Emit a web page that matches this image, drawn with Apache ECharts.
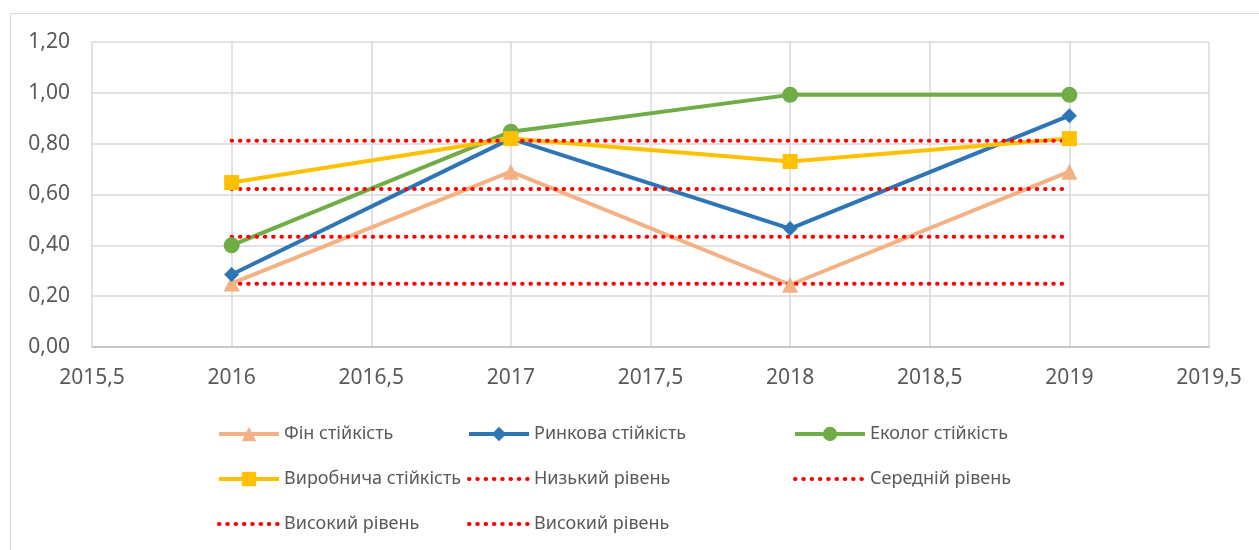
<!DOCTYPE html>
<html>
<head>
<meta charset="utf-8">
<script src="https://cdn.jsdelivr.net/npm/echarts@6/dist/echarts.min.js"></script>
<style>
  html, body { margin: 0; padding: 0; background: #fff; }
  #chart { width: 1259px; height: 550px; }
</style>
</head>
<body>
<div id="chart"></div>
<script>
const years = [2016, 2017, 2018, 2019];

const finValues = [0.25, 0.69, 0.245, 0.69];
const marketValues = [0.285, 0.82, 0.466, 0.91];
const ecoValues = [0.40, 0.847, 0.992, 0.992];
const prodValues = [0.647, 0.82, 0.73, 0.82];

// reference levels (flat dotted lines)
const lowLevel = 0.249;
const midLevel = 0.434;
const highLevel = 0.622;
const highLevel2 = 0.811;

const labels = {
  fin: 'Фін стійкість',
  market: 'Ринкова стійкість',
  eco: 'Еколог стійкість',
  prod: 'Виробнича стійкість',
  low: 'Низький рівень',
  mid: 'Середній рівень',
  high: 'Високий рівень',
  high2: 'Високий рівень'
};

const FONT = '"Noto Sans", sans-serif';
const TXT = '#595959';

const pairs = vals => years.map((y, i) => [y, vals[i]]);
const flat = v => years.map(y => [y, v]);

const lineSeries = (key, vals, color, symbol, size) => ({
  name: key, type: 'line', data: pairs(vals),
  symbol, symbolSize: size, showSymbol: true,
  lineStyle: { color, width: 4 },
  itemStyle: { color },
  emphasis: { disabled: true }
});

const dotSeries = (key, v) => ({
  name: key, type: 'line', data: flat(v),
  symbol: 'none',
  lineStyle: { color: '#FF0000', width: 4, type: [0.5, 7.8], cap: 'round' },
  itemStyle: { color: '#FF0000' },
  emphasis: { disabled: true }
});

// dotted entries: hide the legend symbol, keep the dotted line
const dotItem = k => ({ name: k, itemStyle: { opacity: 0 } });

const legendBase = {
  orient: 'vertical', itemWidth: 60, itemHeight: 18, itemGap: 27,
  top: 425, padding: 0, formatter: k => labels[k],
  lineStyle: { width: 4 },
  textStyle: { color: TXT, fontSize: 18, fontFamily: FONT },
  selectedMode: false
};

const chart = echarts.init(document.getElementById('chart'));
chart.setOption({
  animation: false,
  graphic: [{
    type: 'rect', shape: { x: 10.5, y: 13.5, width: 1300, height: 600 },
    style: { fill: 'none', stroke: '#D9D9D9', lineWidth: 1 }, silent: true
  }],
  grid: { left: 92, right: 50, top: 42, bottom: 203 },
  legend: [
    Object.assign({}, legendBase, { left: 217, data: ['fin', 'prod', dotItem('high')] }),
    Object.assign({}, legendBase, { left: 467, data: ['market', dotItem('low'), dotItem('high2')] }),
    Object.assign({}, legendBase, { left: 793, itemWidth: 70, data: ['eco', dotItem('mid')] })
  ],
  xAxis: {
    type: 'value', min: 2015.5, max: 2019.5, interval: 0.5,
    axisLine: { show: true, lineStyle: { color: '#BFBFBF', width: 1.5 } },
    axisTick: { show: false },
    splitLine: { show: true, lineStyle: { color: '#D9D9D9', width: 1.5 } },
    axisLabel: {
      color: TXT, fontSize: 21, fontFamily: FONT, margin: 21,
      formatter: v => String(v).replace('.', ',')
    }
  },
  yAxis: {
    type: 'value', min: 0, max: 1.2, interval: 0.2,
    axisLine: { show: false },
    axisTick: { show: false },
    splitLine: { show: true, lineStyle: { color: '#D9D9D9', width: 1.5 } },
    axisLabel: {
      color: TXT, fontSize: 21, fontFamily: FONT, margin: 22,
      formatter: v => v.toFixed(2).replace('.', ',')
    }
  },
  series: [
    lineSeries('fin', finValues, '#F4B183', 'triangle', 16),
    lineSeries('market', marketValues, '#2E75B6', 'diamond', 15),
    lineSeries('eco', ecoValues, '#70AD47', 'circle', 16),
    lineSeries('prod', prodValues, '#FFC000', 'rect', 15),
    dotSeries('low', lowLevel),
    dotSeries('mid', midLevel),
    dotSeries('high', highLevel),
    dotSeries('high2', highLevel2)
  ]
});
</script>
</body>
</html>
